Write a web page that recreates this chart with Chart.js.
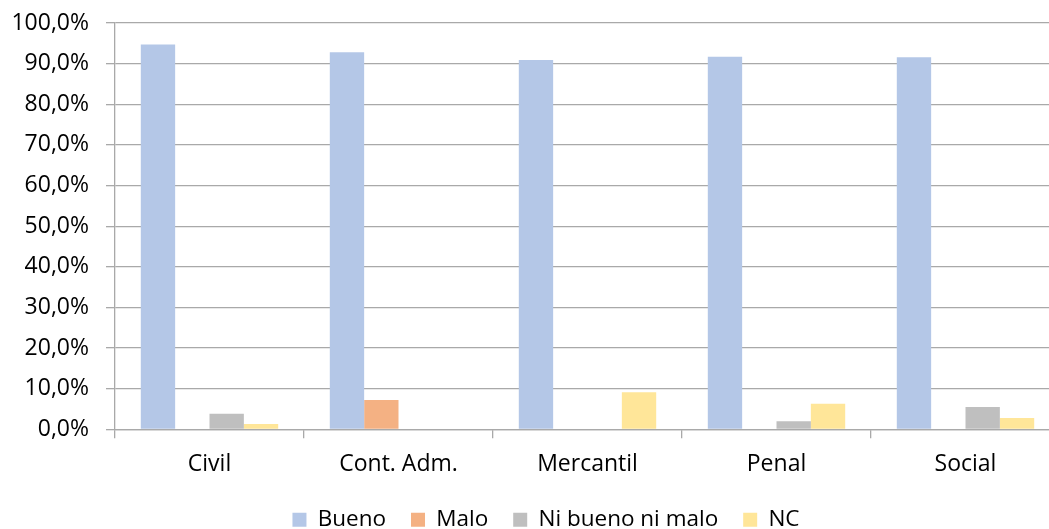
<!DOCTYPE html>
<html>
<head>
<meta charset="utf-8">
<script src="https://cdn.jsdelivr.net/npm/chart.js@4/dist/chart.umd.min.js"></script>
<style>
  html, body { margin: 0; padding: 0; overflow: hidden; background: #fff; }
  #wrap { width: 1060px; height: 541px; }
</style>
</head>
<body>
<div id="wrap"><canvas id="c" width="1060" height="541"></canvas></div>
<script>
const categories = ['Civil', 'Cont. Adm.', 'Mercantil', 'Penal', 'Social'];
const seriesNames = ['Bueno', 'Malo', 'Ni bueno ni malo', 'NC'];
const bueno = [94.7, 92.8, 90.9, 91.7, 91.6];
const malo = [0, 7.2, 0, 0, 0];
const niBuenoNiMalo = [3.8, 0, 0, 2.0, 5.5];
const nc = [1.3, 0, 9.1, 6.3, 2.8];
const yTicks = [0, 10, 20, 30, 40, 50, 60, 70, 80, 90, 100];

const colors = ['#B4C7E7', '#F4B183', '#BFBFBF', '#FFE699'];
const values = [bueno, malo, niBuenoNiMalo, nc];
const FONT = { family: '"Open Sans", sans-serif', size: 23 };
const LEGEND_FONT = { family: '"Open Sans", sans-serif', size: 22.5 };
const GRID = '#A9A9A9';

const legendShift = {
  id: 'legendShift',
  afterLayout(chart) {
    const lg = chart.legend;
    if (lg) { lg.left += 16; lg.right += 16; }
  }
};

new Chart(document.getElementById('c'), {
  type: 'bar',
  data: {
    labels: categories,
    datasets: seriesNames.map((n, i) => ({
      label: n,
      data: values[i],
      backgroundColor: colors[i],
      borderWidth: 0,
      categoryPercentage: 0.727,
      barPercentage: 1.0
    }))
  },
  plugins: [legendShift],
  options: {
    responsive: false,
    animation: false,
    devicePixelRatio: 1,
    layout: { padding: { top: 23, right: 0, left: 0, bottom: 0 } },
    plugins: {
      tooltip: { enabled: false },
      legend: {
        position: 'bottom',
        labels: {
          boxWidth: 14, boxHeight: 14, padding: 25,
          color: '#000', font: LEGEND_FONT
        }
      }
    },
    scales: {
      x: {
        grid: { drawOnChartArea: false, drawTicks: true, tickLength: 9, color: GRID, lineWidth: 1.3 },
        border: { display: true, color: GRID, width: 1.3 },
        ticks: { color: '#000', font: FONT, padding: 12.5, maxRotation: 0, autoSkip: false },
        afterFit: s => { s.height = 54.2; }
      },
      y: {
        min: 0, max: 100,
        afterBuildTicks: s => { s.ticks = yTicks.map(v => ({ value: v })); },
        grid: { color: GRID, lineWidth: 1.3, tickLength: 9, drawTicks: true },
        border: { display: true, color: GRID, width: 1.3 },
        ticks: {
          color: '#000', font: FONT, padding: 17,
          callback: v => v.toFixed(1).replace('.', ',') + '%'
        },
        afterFit: s => { s.width = 115; s.paddingTop = 0; s.paddingBottom = 0; }
      }
    }
  }
});
</script>
</body>
</html>
